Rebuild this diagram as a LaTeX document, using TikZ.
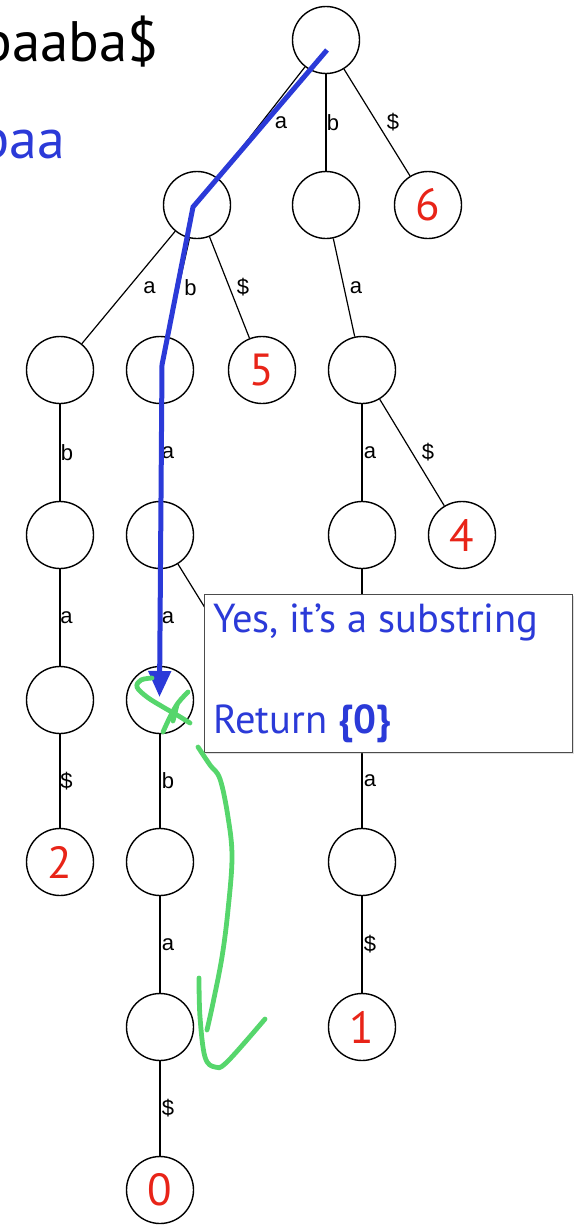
\documentclass[tikz,border=0pt]{standalone}
\usepackage{fontspec}
\usetikzlibrary{arrows.meta,shadows}
\newfontfamily\slidefont{PT Sans}
\newfontfamily\edgefont{Liberation Sans}
\definecolor{pathblue}{RGB}{43,58,216}
\definecolor{leafred}{RGB}{232,36,24}
\definecolor{inkgreen}{RGB}{86,214,108}
\begin{document}
\begin{tikzpicture}[x=1pt,y=-1pt,
  vtx/.style={circle, draw, line width=1.4pt, minimum size=67pt, inner sep=0pt},
  hiddenvtx/.style={circle, minimum size=67pt, inner sep=0pt},
  leaf/.style={vtx, text=leafred, font=\slidefont\fontsize{45}{45}\selectfont},
  edge/.style={line width=1.2pt},
  lbl/.style={midway, font=\edgefont\fontsize{22}{22}\selectfont, inner sep=0pt},
  bigtext/.style={anchor=base east, inner sep=0pt, font=\slidefont\fontsize{57}{57}\selectfont},
  msgtext/.style={anchor=base west, inner sep=0pt, text=pathblue, font=\slidefont\fontsize{40.5}{40.5}\selectfont},
  ink/.style={inkgreen, line width=4.8pt, line cap=round, line join=round},
]
\useasboundingbox (0,0) rectangle (583,1226);

% text and pattern
\node[bigtext] (txt) at (159,61) {abaaba\$};
\node[bigtext, text=pathblue, font=\slidefont\fontsize{56}{56}\selectfont] (pat) at (65,158) {abaa};

% suffix trie vertices
\node[vtx] (r) at (326,40) {};
\node[vtx] (n1a) at (197,205) {};
\node[vtx] (n1b) at (326,205) {};
\node[leaf] (l6) at (428,205) {6};
\node[vtx] (n2a) at (60,370) {};
\node[vtx] (n2b) at (160,370) {};
\node[leaf] (l5) at (262,370) {5};
\node[vtx] (n2d) at (362,370) {};
\node[vtx] (n3a) at (60,535) {};
\node[vtx] (n3b) at (160,535) {};
\node[vtx] (n3c) at (362,535) {};
\node[leaf] (l4) at (462,535) {4};
\node[vtx] (n4a) at (60,700) {};
\node[vtx] (n4b) at (160,700) {};
\node[hiddenvtx] (h3) at (262,700) {};
\node[hiddenvtx] (h4) at (362,700) {};
\node[leaf] (l2) at (60,862) {2};
\node[vtx] (n5b) at (160,862) {};
\node[vtx] (n5c) at (362,862) {};
\node[vtx] (n6a) at (160,1027) {};
\node[leaf] (l1) at (362,1027) {1};
\node[leaf] (l0) at (160,1190) {0};

% labelled edges
\draw[edge] (r) -- node[lbl, xshift=19.5pt] {a} (n1a);
\draw[edge] (r) -- node[lbl, xshift=7pt] {b} (n1b);
\draw[edge] (r) -- node[lbl, xshift=16pt] {\$} (l6);
\draw[edge] (n1a) -- node[lbl, xshift=21pt] {a} (n2a);
\draw[edge] (n1a) -- node[lbl, xshift=12pt] {b} (n2b);
\draw[edge] (n1a) -- node[lbl, xshift=13.5pt] {\$} (l5);
\draw[edge] (n1b) -- node[lbl, xshift=12pt] {a} (n2d);
\draw[edge] (n2a) -- node[lbl, xshift=7pt] {b} (n3a);
\draw[edge] (n2b) -- node[lbl, xshift=8pt] {a} (n3b);
\draw[edge] (n2d) -- node[lbl, xshift=8pt] {a} (n3c);
\draw[edge] (n2d) -- node[lbl, xshift=16pt] {\$} (l4);
\draw[edge] (n3a) -- node[lbl, xshift=6.5pt] {a} (n4a);
\draw[edge] (n3b) -- node[lbl, xshift=8pt] {a} (n4b);
\draw[edge] (n3b) -- (h3);
\draw[edge] (n3c) -- (h4);
\draw[edge] (n4a) -- node[lbl, xshift=6.5pt] {\$} (l2);
\draw[edge] (n4b) -- node[lbl, xshift=8pt] {b} (n5b);
\draw[edge] (h4) -- node[lbl, xshift=8pt] {a} (n5c);
\draw[edge] (n5b) -- node[lbl, xshift=8pt] {a} (n6a);
\draw[edge] (n5c) -- node[lbl, xshift=8pt] {\$} (l1);
\draw[edge] (n6a) -- node[lbl, xshift=8pt] {\$} (l0);

% result call-out
\node[draw=black!70, line width=1.2pt, fill=white, anchor=north west,
      minimum width=368pt, minimum height=158pt, inner sep=0pt,
      drop shadow={opacity=0.25, shadow xshift=1pt, shadow yshift=-1.5pt}] (msg) at (204,594) {};
\node[msgtext] (yes) at (213,632) {Yes, it’s a substring};
\node[msgtext] (ret) at (213,733) {Return {\bfseries\{0\}}};

% matched path of the pattern
\coordinate (p0) at (327,50);
\coordinate (p1) at (193,207);
\coordinate (p2) at (162,365);
\coordinate (p3) at (159.5,697);
\draw[pathblue, line width=5pt, line join=miter, -{Triangle[length=26pt,width=22pt]}]
  (p0) -- (p1) -- (p2) -- (p3);

% hand-drawn green marks
\draw[ink] plot[smooth, tension=0.6] coordinates {(152,678) (141,680) (137,687) (147,697) (163,707) (177,715) (190,723)};
\draw[ink] plot[smooth, tension=0.6] coordinates {(188,692) (178,703) (170,717) (163,732)};
\draw[ink] (177,705) -- (173,721);
\draw[ink] plot[smooth, tension=0.6] coordinates {(198,747) (210,765) (220,779) (228,817) (232,857) (228,910) (222,957) (213,1003) (207,1030)};
\draw[ink] plot[smooth, tension=0.6] coordinates {(199,978) (200,1017) (205,1057) (215,1067) (227,1062) (265,1019)};
\end{tikzpicture}
\end{document}
